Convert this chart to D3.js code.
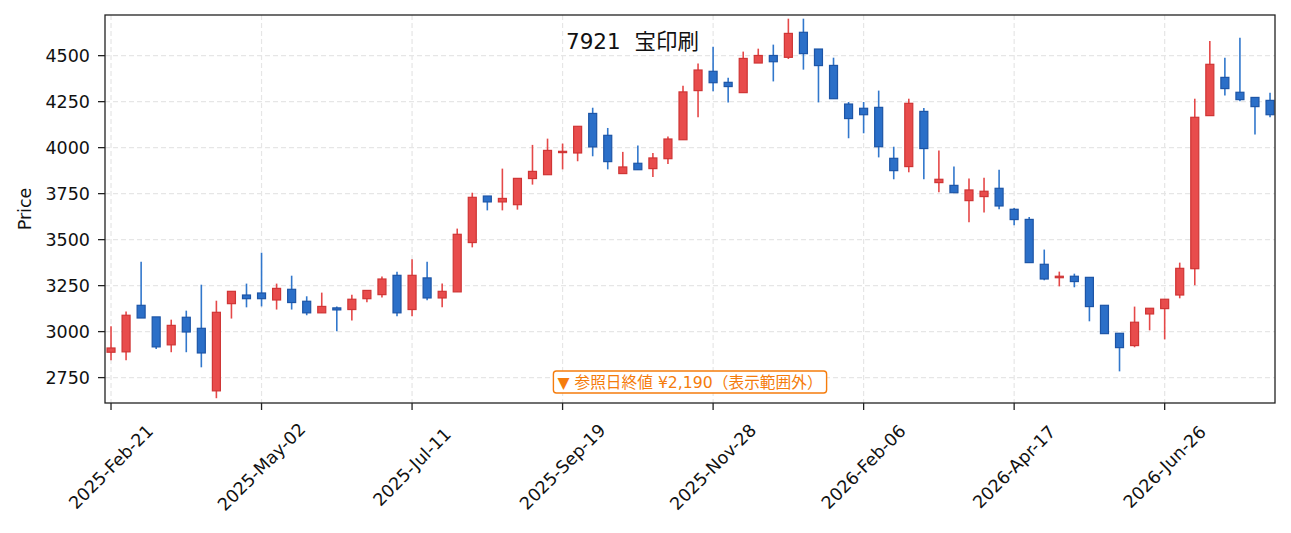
<!DOCTYPE html>
<html lang="ja">
<head>
<meta charset="UTF-8">
<title>7921 宝印刷</title>
<script src="https://d3js.org/d3.v7.min.js"></script>
<style>
  body { margin: 0; background: #fff; }
  svg { display: block; }
  text { font-family: "DejaVu Sans", "Noto Sans CJK JP", sans-serif; fill: #111; }
</style>
</head>
<body>
<div id="chart"></div>
<script>
// weekly candles, one per week from 2025-Feb-21
const opens  = [2888,2890,3143,3080,2928,3078,3018,2678,3152,3199,3210,3172,3230,3165,3102,3129,3120,3179,3201,3306,
                3120,3292,3183,3216,3484,3737,3705,3690,3832,3853,3973,3971,4186,4067,3859,3915,3886,3940,4043,4310,
                4415,4355,4299,4460,4501,4491,4627,4536,4447,4237,4214,4219,3942,3897,4197,3810,3795,3712,3734,3779,
                3665,3610,3366,3293,3301,3295,3143,2991,2924,3096,3125,3199,3342,4174,4382,4301,4273,4257];
const highs  = [3029,3110,3380,3080,3065,3114,3255,3168,3219,3261,3429,3261,3304,3192,3212,3137,3201,3224,3299,3326,
                3393,3380,3261,3560,3755,3737,3886,3833,4015,4049,4022,4116,4217,4107,3977,4011,3971,4060,4337,4457,
                4549,4380,4522,4538,4560,4701,4701,4536,4489,4248,4248,4310,4005,4266,4216,3984,3897,3832,3837,3880,
                3672,3623,3446,3326,3315,3295,3143,2991,3136,3127,3176,3375,4266,4580,4489,4598,4273,4299];
const lows   = [2844,2844,3074,2906,2888,2888,2806,2638,3071,3132,3137,3120,3120,3089,3102,3002,3061,3159,3186,3083,
                3083,3170,3132,3216,3458,3659,3659,3663,3799,3853,3882,3926,3953,3882,3859,3880,3841,3911,4043,4165,
                4306,4246,4299,4460,4360,4482,4424,4246,4266,4051,4078,3947,3828,3866,3828,3757,3755,3594,3648,3665,
                3578,3375,3279,3246,3241,3056,2989,2784,2915,3007,2958,3181,3252,4174,4284,4252,4072,4165];
const closes = [2911,3089,3074,2917,3034,2998,2884,3105,3219,3179,3179,3235,3158,3102,3137,3118,3176,3224,3286,3102,
                3306,3183,3219,3529,3730,3705,3724,3833,3871,3985,3980,4116,4004,3924,3895,3880,3944,4047,4303,4422,
                4353,4332,4485,4501,4467,4621,4511,4446,4266,4158,4179,4005,3875,4241,3995,3828,3755,3770,3763,3683,
                3609,3375,3286,3301,3272,3136,2989,2913,3051,3127,3176,3344,4165,4453,4321,4261,4223,4179];

const xTickIdx    = [0, 10, 20, 30, 40, 50, 60, 70];
const xTickLabels = ["2025-Feb-21","2025-May-02","2025-Jul-11","2025-Sep-19",
                     "2025-Nov-28","2026-Feb-06","2026-Apr-17","2026-Jun-26"];
const yTicks      = [2750, 3000, 3250, 3500, 3750, 4000, 4250, 4500];

const titleText = "7921  宝印刷";
const noteText  = "▼ 参照日終値 ¥2,190（表示範囲外）";

const width = 1291, height = 533;
const margin = {left: 105, right: 16, top: 15, bottom: 130};
const plotW = width - margin.left - margin.right;
const plotH = height - margin.top - margin.bottom;

const svg = d3.select("#chart").append("svg")
    .attr("width", width).attr("height", height);

const x = d3.scaleLinear().domain([-0.4, opens.length - 0.67]).range([margin.left, margin.left + plotW]);
const y = d3.scaleLinear().domain([2612, 4721]).range([margin.top + plotH, margin.top]);

// grid
const grid = svg.append("g").attr("stroke", "#e6e6e6").attr("stroke-width", 1.2).attr("stroke-dasharray", "5,3");
grid.selectAll(".gy").data(yTicks).enter().append("line")
    .attr("x1", margin.left).attr("x2", margin.left + plotW)
    .attr("y1", d => y(d)).attr("y2", d => y(d));
grid.selectAll(".gx").data(xTickIdx).enter().append("line")
    .attr("x1", d => x(d)).attr("x2", d => x(d))
    .attr("y1", margin.top).attr("y2", margin.top + plotH);

// candles
const data = opens.map((o, i) => ({i, o, h: highs[i], l: lows[i], c: closes[i]}));
const up = d => d.c >= d.o;
const bodyW = 8;

const plot = svg.append("g");
plot.selectAll(".wick").data(data).enter().append("line")
    .attr("x1", d => x(d.i)).attr("x2", d => x(d.i))
    .attr("y1", d => y(d.h)).attr("y2", d => y(d.l))
    .attr("stroke", d => up(d) ? "#e54848" : "#3177cc")
    .attr("stroke-width", 1.6);
plot.selectAll(".body").data(data).enter().append("rect")
    .attr("x", d => x(d.i) - bodyW / 2)
    .attr("width", bodyW)
    .attr("y", d => y(Math.max(d.o, d.c)))
    .attr("height", d => Math.max(1, Math.abs(y(d.o) - y(d.c))))
    .attr("fill", d => up(d) ? "#e84c4c" : "#2b6fc8")
    .attr("stroke", d => up(d) ? "#cf3535" : "#1d55a6")
    .attr("stroke-width", 1.2);

// frame
svg.append("rect")
    .attr("x", margin.left).attr("y", margin.top)
    .attr("width", plotW).attr("height", plotH)
    .attr("fill", "none").attr("stroke", "#222").attr("stroke-width", 1.3);

// y axis
const yAxis = svg.append("g");
yAxis.selectAll("line").data(yTicks).enter().append("line")
    .attr("x1", margin.left - 7).attr("x2", margin.left)
    .attr("y1", d => y(d)).attr("y2", d => y(d))
    .attr("stroke", "#222").attr("stroke-width", 1.3);
yAxis.selectAll("text").data(yTicks).enter().append("text")
    .attr("x", margin.left - 15).attr("y", d => y(d))
    .attr("text-anchor", "end").attr("dominant-baseline", "central")
    .style("font-size", "17.5px")
    .text(d => d);
svg.append("text")
    .attr("transform", `translate(25,${margin.top + plotH / 2}) rotate(-90)`)
    .attr("text-anchor", "middle").attr("dominant-baseline", "central")
    .style("font-size", "17.5px")
    .text("Price");

// x axis
const xAxis = svg.append("g");
const axisY = margin.top + plotH;
xAxis.selectAll("line").data(xTickIdx).enter().append("line")
    .attr("x1", d => x(d)).attr("x2", d => x(d))
    .attr("y1", axisY).attr("y2", axisY + 7)
    .attr("stroke", "#222").attr("stroke-width", 1.3);
xAxis.selectAll("text").data(xTickIdx).enter().append("text")
    .attr("transform", d => `translate(${x(d)},${axisY + 64}) rotate(-45)`)
    .attr("text-anchor", "middle").attr("dominant-baseline", "central")
    .style("font-size", "17.5px")
    .text((d, i) => xTickLabels[i]);

// title
svg.append("text")
    .attr("x", 566).attr("y", 41)
    .attr("dominant-baseline", "central")
    .style("font-size", "21.5px")
    .style("white-space", "pre")
    .text(titleText);

// out-of-range note
const note = svg.append("g");
const noteBox = note.append("rect");
const noteLabel = note.append("text")
    .attr("x", margin.left + plotW / 2).attr("y", 382)
    .attr("text-anchor", "middle").attr("dominant-baseline", "central")
    .style("font-size", "15.7px").style("fill", "#f57c0c")
    .text(noteText);
const bb = noteLabel.node().getBBox();
noteBox.attr("x", bb.x - 4).attr("y", 371)
    .attr("width", bb.width + 8).attr("height", 22)
    .attr("rx", 3)
    .attr("fill", "#fff").attr("stroke", "#f57c0c").attr("stroke-width", 1.4);
</script>
</body>
</html>
